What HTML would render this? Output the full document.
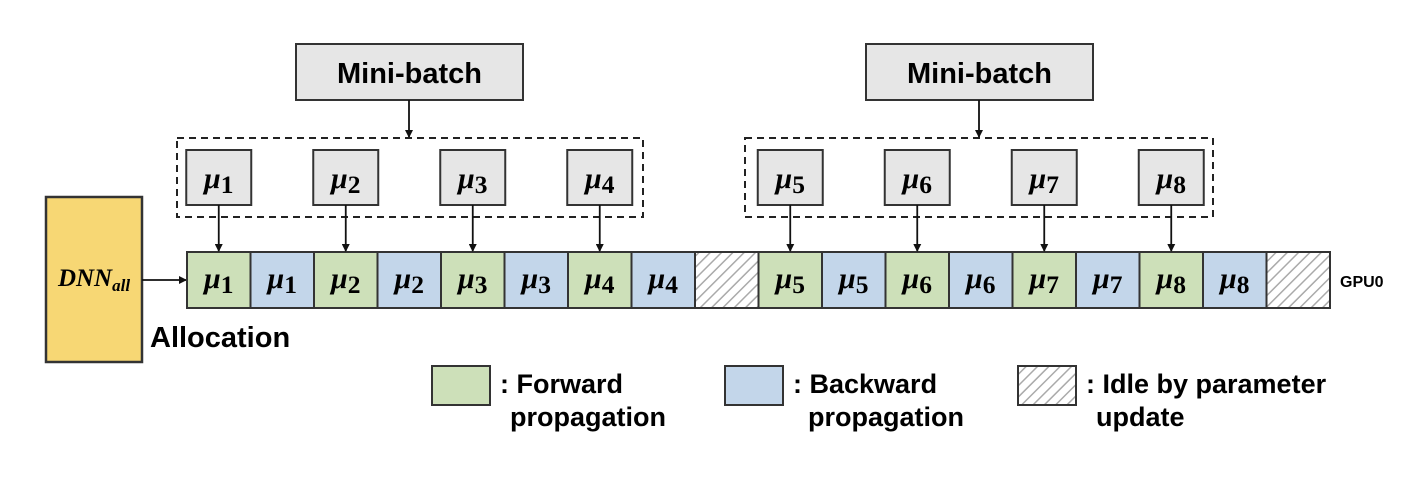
<!DOCTYPE html>
<html><head><meta charset="utf-8"><style>
html,body{margin:0;padding:0;background:#fff}
svg{display:block}
text{font-family:"Liberation Sans",sans-serif;font-weight:bold}
.mu{font-family:"Liberation Serif","DejaVu Serif",serif;font-style:italic;font-weight:bold}
</style></head><body>
<svg id="c" width="1418" height="486" viewBox="0 0 1418 486" xmlns="http://www.w3.org/2000/svg">
<defs>
<pattern id="hatch" width="8" height="8" patternUnits="userSpaceOnUse" patternTransform="rotate(45)">
<rect width="8" height="8" fill="#fff"/><line x1="0" y1="0" x2="0" y2="8" stroke="#aaa" stroke-width="3"/>
</pattern>
<marker id="ah" markerWidth="8" markerHeight="8" refX="7" refY="4" orient="auto" markerUnits="userSpaceOnUse"><path d="M0,0 L8,4 L0,8 z" fill="#111"/></marker>
</defs>
<rect x="46" y="197" width="96" height="165" fill="#f7d774" stroke="#333" stroke-width="2.5"/>
<text x="94" y="286" text-anchor="middle" class="mu" font-size="25">DNN<tspan font-size="17" dy="5">all</tspan></text>
<line x1="142" y1="280" x2="186" y2="280" stroke="#111" stroke-width="1.8" marker-end="url(#ah)"/>
<text x="150" y="347" font-size="29">Allocation</text>
<text x="1340" y="287" font-size="16">GPU0</text>
<g id="g"></g>
<g>
<rect x="432" y="366" width="58" height="39" fill="#cde0b9" stroke="#333" stroke-width="2"/>
<text x="500" y="393" font-size="27">: Forward</text><text x="510" y="426" font-size="27">propagation</text>
<rect x="725" y="366" width="58" height="39" fill="#c3d6ea" stroke="#333" stroke-width="2"/>
<text x="793" y="393" font-size="27">: Backward</text><text x="808" y="426" font-size="27">propagation</text>
<rect x="1018" y="366" width="58" height="39" fill="url(#hatch)" stroke="#333" stroke-width="2"/>
<text x="1086" y="393" font-size="27">: Idle by parameter</text><text x="1096" y="426" font-size="27">update</text>
</g>
</svg>
<script>
const cells=['F1','B1','F2','B2','F3','B3','F4','B4','I','F5','B5','F6','B6','F7','B7','F8','B8','I'];
const NS='http://www.w3.org/2000/svg',g=document.getElementById('g');
function mk(t,a){const e=document.createElementNS(NS,t);for(const k in a)e.setAttribute(k,a[k]);g.appendChild(e);return e;}
function mu(x,y,n,size){const t=mk('text',{x:x,y:y,'text-anchor':'middle','font-size':size,class:'mu'});t.innerHTML='μ<tspan font-family="Liberation Serif,serif" font-style="normal" font-size="'+(size*0.85)+'" dy="5">'+n+'</tspan>';return t;}
const x0=187,w=63.5,y0=252,h=56;
cells.forEach((c,i)=>{const x=x0+i*w;
 const fill=c==='I'?'url(#hatch)':(c[0]==='F'?'#cde0b9':'#c3d6ea');
 const r=mk('rect',{x:x,y:y0,width:w,height:h,fill:fill,stroke:'#333','stroke-width':2});
 
 
 if(c!=='I'){const t=mu(x+w/2,y0+36,c[1],30);
 }
});
[[177,643,409,296],[745,1213,979,866]].forEach((d,k)=>{
 const db=mk('rect',{x:d[0],y:138,width:d[1]-d[0],height:79,fill:'none',stroke:'#222','stroke-width':2,'stroke-dasharray':'7,5'});
 
 
 const mb=mk('rect',{x:d[3],y:44,width:227,height:56,fill:'#e6e6e6',stroke:'#333','stroke-width':2});
 
 
 const mt=mk('text',{x:d[3]+113.5,y:83,'text-anchor':'middle','font-size':29});mt.textContent='Mini-batch';
 
 
 mk('line',{x1:d[2],y1:100,x2:d[2],y2:137,stroke:'#111','stroke-width':1.8,'marker-end':'url(#ah)'});
});
for(let j=0;j<8;j++){const ci=j<4?j*2:9+(j-4)*2;const cx=x0+ci*w+w/2;
 const b=mk('rect',{x:cx-32.5,y:150,width:65,height:55,fill:'#e6e6e6',stroke:'#333','stroke-width':2});
 
 
 mu(cx,188,String(j+1),30);
 mk('line',{x1:cx,y1:205,x2:cx,y2:251,stroke:'#111','stroke-width':1.8,'marker-end':'url(#ah)'});
}
</script>
</body></html>
